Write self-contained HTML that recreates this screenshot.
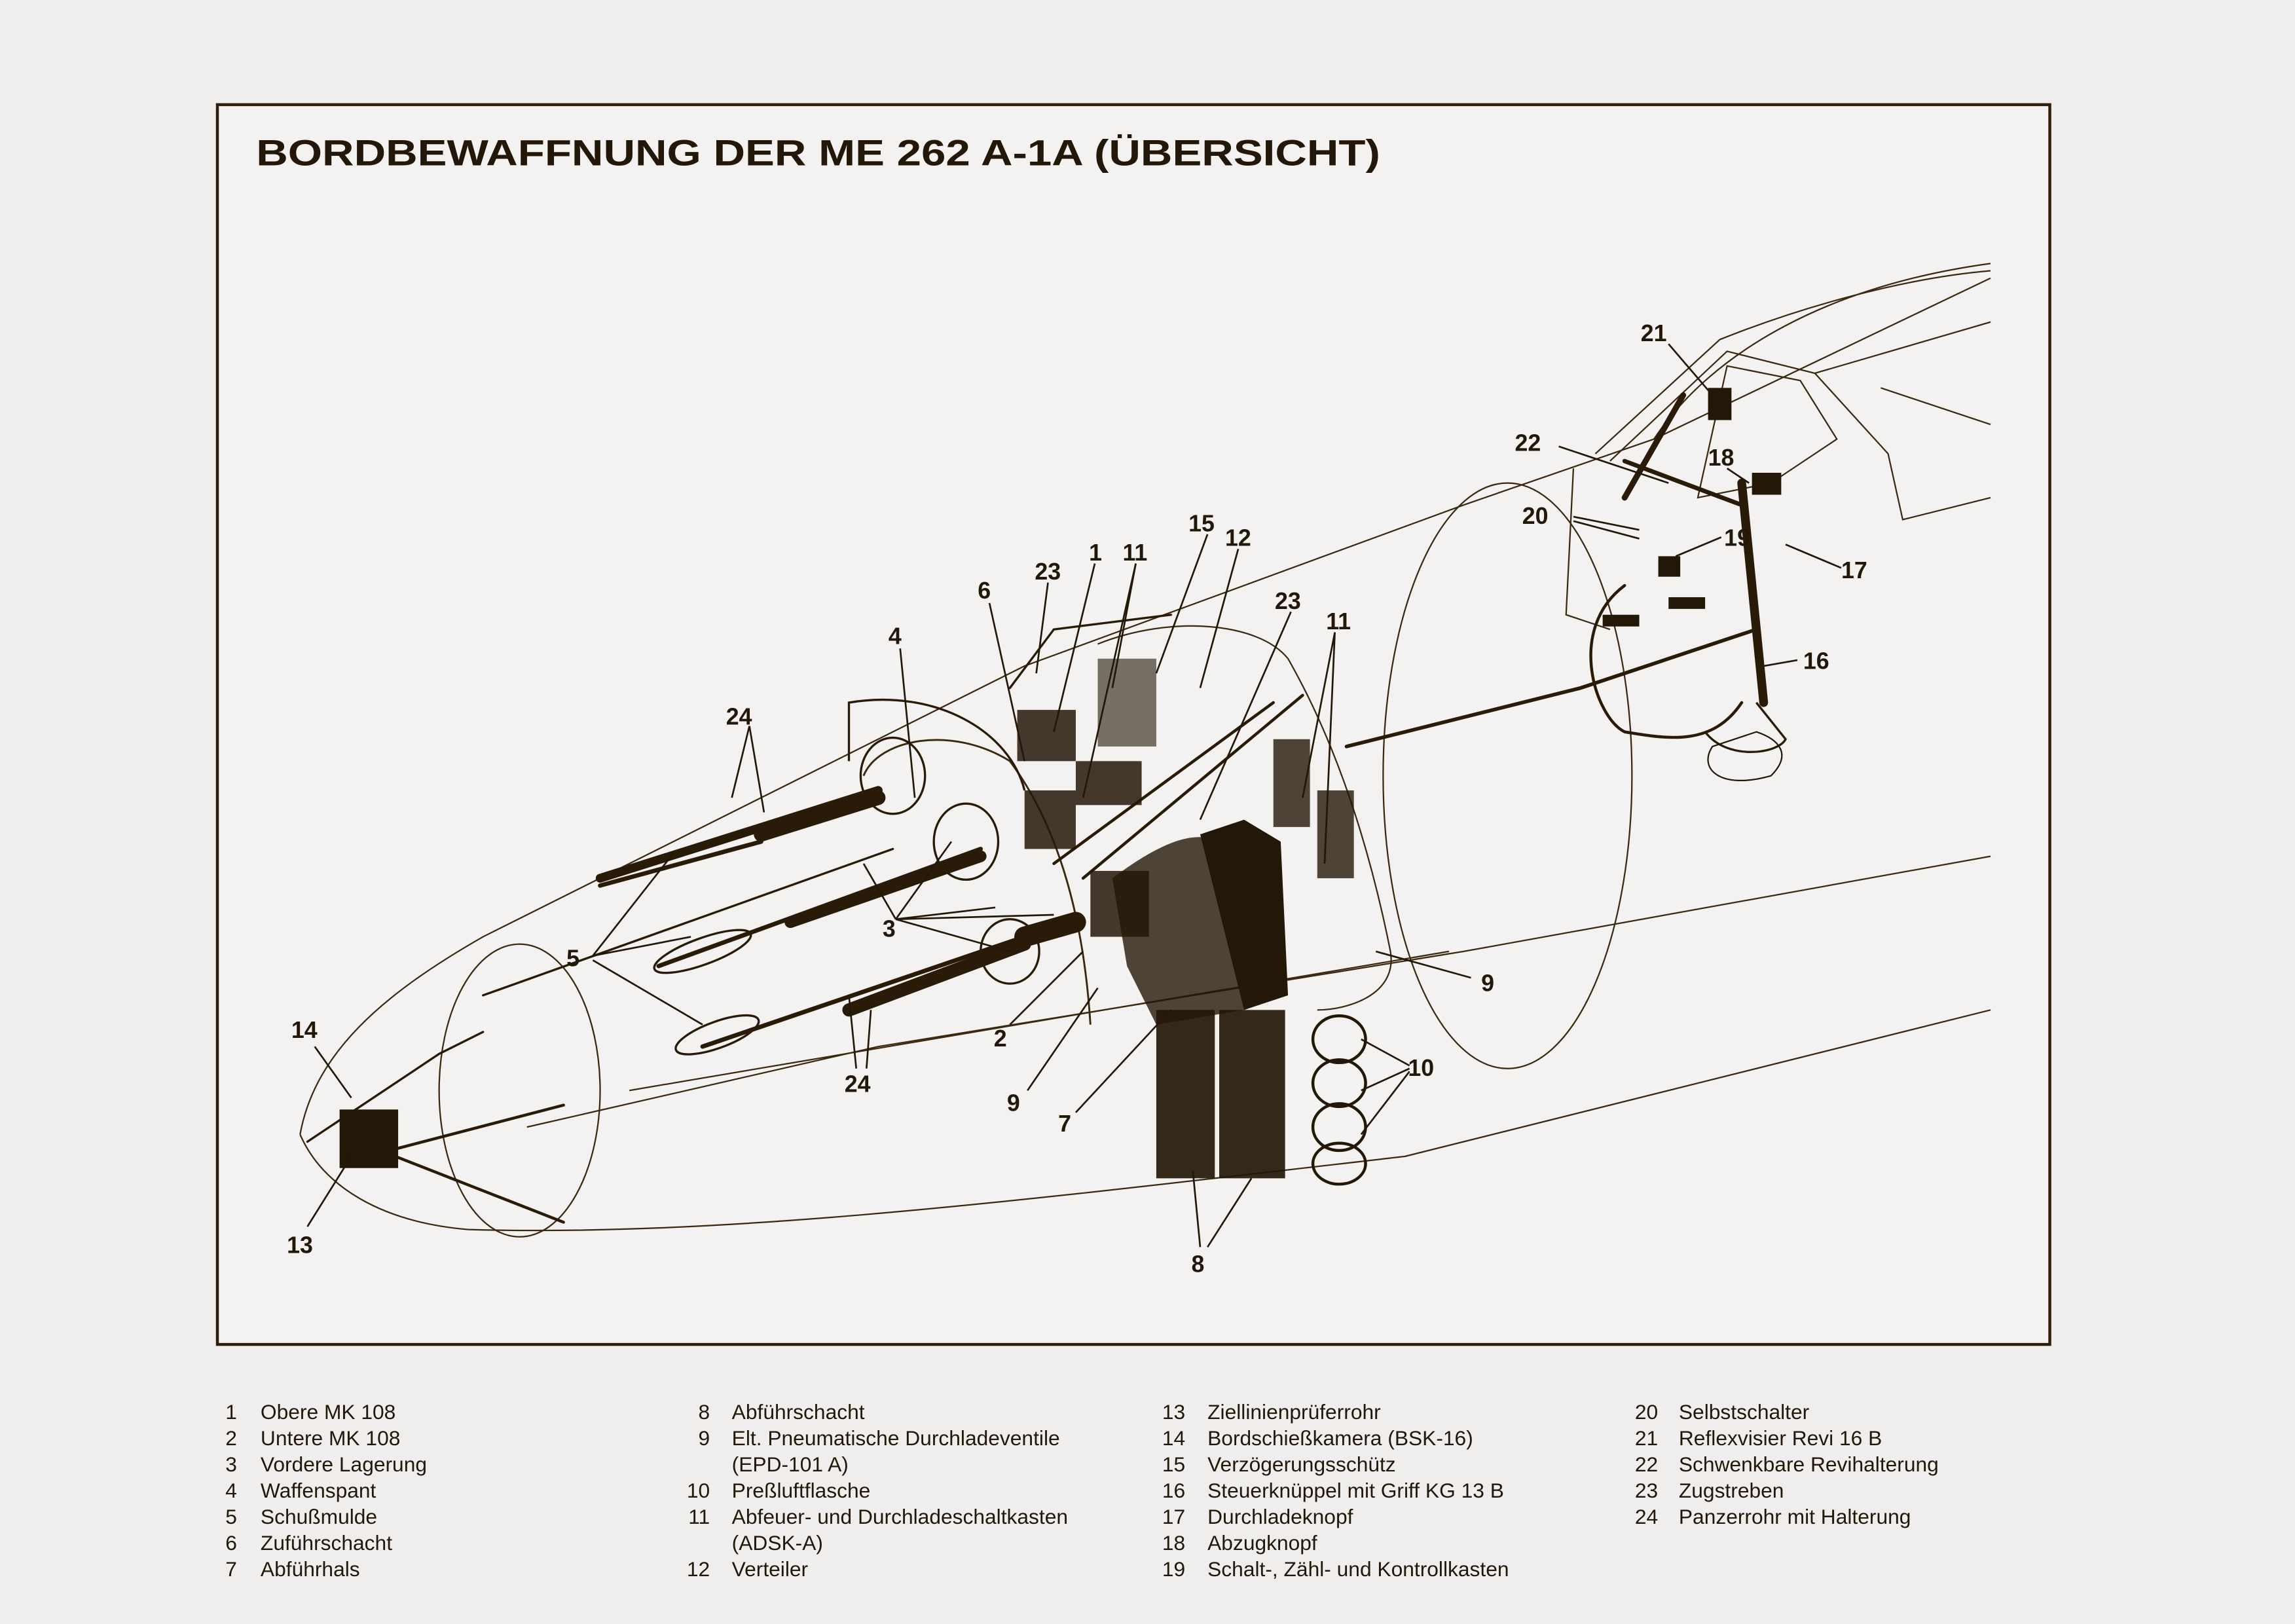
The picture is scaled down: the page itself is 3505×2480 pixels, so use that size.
<!DOCTYPE html>
<html><head><meta charset="utf-8"><style>
html,body{margin:0;padding:0;background:#efeeec;}
svg{display:block}
text{font-family:"Liberation Sans",sans-serif;fill:#231709}
.lb{font-weight:bold;font-size:16px}
.lg{font-size:14.2px}
</style></head><body>
<svg width="3505" height="2480" viewBox="0 0 1568 1109.5" xmlns="http://www.w3.org/2000/svg">
<rect width="1568" height="1110" fill="#efeeec"/>
<rect x="148.5" y="71.5" width="1252" height="847" fill="#f3f2f0" stroke="#2e1e0a" stroke-width="2"/>
<text x="175" y="113" font-size="25" font-weight="bold" textLength="768" lengthAdjust="spacingAndGlyphs">BORDBEWAFFNUNG DER ME 262 A-1A (ÜBERSICHT)</text>

<g fill="none" stroke="#3a2810" stroke-width="1">
<path d="M205,775 C215,720 260,680 330,640 L700,455 L1000,345 L1130,300 C1170,240 1250,195 1360,180"/>
<path d="M1130,300 L1360,190" />
<path d="M205,775 C220,810 260,835 320,840 C500,845 700,820 960,790 L1360,690"/>
<path d="M360,770 L600,715 L1000,650 L1360,585"/>
<path d="M430,745 L990,650"/>
<ellipse cx="355" cy="745" rx="55" ry="100"/>
<ellipse cx="1030" cy="530" rx="85" ry="200"/>
<path d="M1090,310 L1175,232 C1230,210 1300,190 1360,185"/>
<path d="M1100,315 L1180,240 L1240,255 L1290,310 L1300,355 L1360,340"/>
<path d="M1180,250 L1230,260 L1255,300 L1210,330 L1160,340 Z"/>
<path d="M1240,255 L1360,220"/>
<path d="M1285,265 L1360,290"/>
<path d="M1075,320 L1070,420 L1100,430"/>
<path d="M590,530 C600,505 650,495 690,520 C720,560 740,620 745,700" stroke-width="1.3"/>
<path d="M750,440 C800,420 860,425 880,450 C920,520 940,600 950,650 C955,680 920,690 900,690"/>
</g>

<g stroke="#2a1a08" fill="none" stroke-linecap="round">
<path d="M410,600 L600,540" stroke-width="6"/>
<path d="M520,570 L600,545" stroke-width="10"/>
<path d="M410,605 L520,575" stroke-width="3"/>
<path d="M450,660 L670,580" stroke-width="3"/>
<path d="M540,630 L670,585" stroke-width="8"/>
<path d="M480,715 L700,640" stroke-width="3"/>
<path d="M580,690 L700,645" stroke-width="9"/>
<path d="M700,640 L735,630" stroke-width="14"/>
<path d="M720,590 L870,480" stroke-width="2"/>
<path d="M740,600 L890,475" stroke-width="2"/>
<path d="M330,680 L610,580" stroke-width="1.5"/>
<path d="M210,780 L300,720 L330,705" stroke-width="1.5"/>
<path d="M920,510 L1080,470 L1200,430" stroke-width="2.5"/>
<path d="M1110,400 C1070,430 1090,490 1110,500 C1140,505 1170,510 1190,480" stroke-width="2"/>
<path d="M1190,330 L1205,480" stroke-width="6"/>
<path d="M1150,270 L1110,340" stroke-width="4"/>
<path d="M1110,315 L1190,345" stroke-width="3"/>
<path d="M270,785 L385,755" stroke-width="2"/>
<path d="M270,790 L385,835" stroke-width="2"/>
<path d="M690,470 L720,430 L800,420" stroke-width="1.5"/>
</g>
<g fill="none" stroke="#2a1a08" stroke-width="1.5">
<ellipse cx="480" cy="650" rx="35" ry="9" transform="rotate(-20 480 650)"/>
<ellipse cx="490" cy="707" rx="30" ry="9" transform="rotate(-20 490 707)"/>
<ellipse cx="610" cy="530" rx="22" ry="26"/>
<ellipse cx="660" cy="575" rx="22" ry="26"/>
<ellipse cx="690" cy="650" rx="20" ry="22"/>
<path d="M580,520 L580,480 C640,470 690,500 700,540"/>
<path d="M1165,500 C1180,520 1215,515 1220,505 L1200,480"/>
</g>
<g fill="#231708">
<rect x="695" y="485" width="40" height="35" opacity="0.85"/>
<rect x="735" y="520" width="45" height="30" opacity="0.85"/>
<rect x="700" y="540" width="35" height="40" opacity="0.85"/>
<rect x="745" y="595" width="40" height="45" opacity="0.85"/>
<path d="M760,600 C800,570 830,560 850,590 L850,690 L790,700 L770,660 Z" opacity="0.8"/>
<path d="M820,570 L850,560 L875,575 L880,680 L850,690 Z"/>
<rect x="790" y="690" width="40" height="115" opacity="0.92"/>
<rect x="833" y="690" width="45" height="115" opacity="0.92"/>
<rect x="870" y="505" width="25" height="60" opacity="0.8"/>
<rect x="900" y="540" width="25" height="60" opacity="0.8"/>
<rect x="750" y="450" width="40" height="60" opacity="0.6"/>
<rect x="232" y="758" width="40" height="40"/>
<rect x="1167" y="265" width="16" height="22"/>
<rect x="1197" y="323" width="20" height="15"/>
<rect x="1133" y="380" width="15" height="14"/>
<rect x="1095" y="420" width="25" height="8"/>
<rect x="1140" y="408" width="25" height="8"/>
</g>
<g fill="none" stroke="#231708" stroke-width="2">
<ellipse cx="915" cy="710" rx="18" ry="16"/>
<ellipse cx="915" cy="740" rx="18" ry="16"/>
<ellipse cx="915" cy="770" rx="18" ry="16"/>
<ellipse cx="915" cy="795" rx="18" ry="14"/>
<path d="M1170,510 C1160,525 1175,540 1210,530 C1225,515 1215,505 1200,500 Z" stroke-width="1"/>
</g>

<g stroke="#231708" stroke-width="1.2" fill="none">
<path d="M1140,235 L1170,270"/><path d="M1065,305 L1140,330"/><path d="M1180,320 L1195,330"/>
<path d="M1075,353 L1120,362"/><path d="M1075,356 L1120,368"/><path d="M1176,367 L1145,380"/>
<path d="M1258,388 L1220,372"/><path d="M1228,451 L1205,455"/>
<path d="M825,365 L790,460"/><path d="M748,385 L720,500"/><path d="M776,385 L760,470"/><path d="M776,385 L740,545"/>
<path d="M846,375 L820,470"/><path d="M716,398 L708,460"/><path d="M676,412 L700,520"/>
<path d="M882,418 L820,560"/><path d="M912,432 L890,545"/><path d="M912,432 L905,590"/>
<path d="M615,443 L625,545"/><path d="M512,496 L500,545"/><path d="M512,496 L522,555"/>
<path d="M405,653 L460,583"/><path d="M405,653 L472,640"/><path d="M405,656 L480,700"/>
<path d="M612,628 L590,590"/><path d="M612,628 L650,575"/><path d="M612,628 L680,620"/><path d="M612,628 L720,625"/><path d="M612,628 L690,650"/>
<path d="M690,700 L740,650"/><path d="M702,745 L750,675"/><path d="M735,760 L800,690"/>
<path d="M585,730 L580,680"/><path d="M592,730 L595,690"/>
<path d="M1005,668 L940,650"/>
<path d="M963,728 L930,710"/><path d="M963,730 L930,745"/><path d="M963,732 L930,775"/>
<path d="M820,852 L815,800"/><path d="M825,852 L855,805"/>
<path d="M215,715 L240,750"/><path d="M210,838 L240,790"/>
</g>

<g class="lb">
<text x="1121" y="233">21</text><text x="1035" y="308">22</text><text x="1167" y="318">18</text>
<text x="1040" y="358">20</text><text x="1178" y="373">19</text><text x="1258" y="395">17</text>
<text x="1232" y="457">16</text><text x="812" y="363">15</text><text x="837" y="373">12</text>
<text x="744" y="383">1</text><text x="767" y="383">11</text><text x="707" y="396">23</text>
<text x="668" y="409">6</text><text x="871" y="416">23</text><text x="906" y="430">11</text>
<text x="607" y="440">4</text><text x="496" y="495">24</text><text x="387" y="660">5</text>
<text x="603" y="640">3</text><text x="679" y="715">2</text><text x="688" y="759">9</text>
<text x="723" y="773">7</text><text x="577" y="746">24</text><text x="1012" y="677">9</text>
<text x="962" y="735">10</text><text x="814" y="869">8</text><text x="199" y="709">14</text>
<text x="196" y="856">13</text>
</g>

<g class="lg">
<text x="154" y="969.5">1</text><text x="178" y="969.5">Obere MK 108</text>
<text x="154" y="987.4">2</text><text x="178" y="987.4">Untere MK 108</text>
<text x="154" y="1005.3">3</text><text x="178" y="1005.3">Vordere Lagerung</text>
<text x="154" y="1023.2">4</text><text x="178" y="1023.2">Waffenspant</text>
<text x="154" y="1041.1">5</text><text x="178" y="1041.1">Schußmulde</text>
<text x="154" y="1059">6</text><text x="178" y="1059">Zuführschacht</text>
<text x="154" y="1076.9">7</text><text x="178" y="1076.9">Abführhals</text>
<g text-anchor="end">
<text x="485" y="969.5">8</text><text x="485" y="987.4">9</text><text x="485" y="1023.2">10</text>
<text x="485" y="1041.1">11</text><text x="485" y="1076.9">12</text>
</g>
<text x="500" y="969.5">Abführschacht</text>
<text x="500" y="987.4">Elt. Pneumatische Durchladeventile</text>
<text x="500" y="1005.3">(EPD-101 A)</text>
<text x="500" y="1023.2">Preßluftflasche</text>
<text x="500" y="1041.1">Abfeuer- und Durchladeschaltkasten</text>
<text x="500" y="1059">(ADSK-A)</text>
<text x="500" y="1076.9">Verteiler</text>
<text x="794" y="969.5">13</text><text x="825" y="969.5">Ziellinienprüferrohr</text>
<text x="794" y="987.4">14</text><text x="825" y="987.4">Bordschießkamera (BSK-16)</text>
<text x="794" y="1005.3">15</text><text x="825" y="1005.3">Verzögerungsschütz</text>
<text x="794" y="1023.2">16</text><text x="825" y="1023.2">Steuerknüppel mit Griff KG 13 B</text>
<text x="794" y="1041.1">17</text><text x="825" y="1041.1">Durchladeknopf</text>
<text x="794" y="1059">18</text><text x="825" y="1059">Abzugknopf</text>
<text x="794" y="1076.9">19</text><text x="825" y="1076.9">Schalt-, Zähl- und Kontrollkasten</text>
<text x="1117" y="969.5">20</text><text x="1147" y="969.5">Selbstschalter</text>
<text x="1117" y="987.4">21</text><text x="1147" y="987.4">Reflexvisier Revi 16 B</text>
<text x="1117" y="1005.3">22</text><text x="1147" y="1005.3">Schwenkbare Revihalterung</text>
<text x="1117" y="1023.2">23</text><text x="1147" y="1023.2">Zugstreben</text>
<text x="1117" y="1041.1">24</text><text x="1147" y="1041.1">Panzerrohr mit Halterung</text>
</g>
</svg>
</body></html>
